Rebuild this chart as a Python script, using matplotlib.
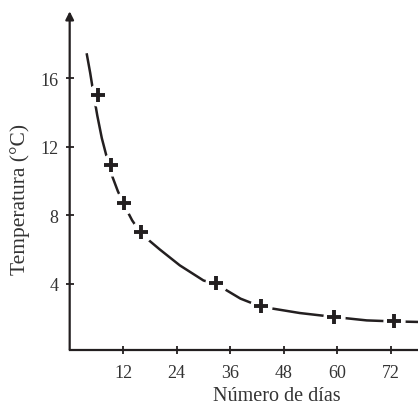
import matplotlib
matplotlib.use('Agg')
import matplotlib.pyplot as plt

# measured points (days, temperature in C)
dias = [6.4, 9.3, 12.2, 16.1, 32.9, 42.9, 59.3, 72.8]
temperatura = [15.0, 10.9, 8.7, 7.0, 4.05, 2.68, 2.06, 1.80]

# hand-drawn fitted curve
curva_x = [3.8, 4.6, 5.4, 6.2, 7.2, 8.3, 9.5, 10.8, 12.2, 14.0, 16.1, 20.2,
           24.7, 30.0, 32.9, 38.3, 42.9, 51.6, 59.3, 66.6, 72.8, 78.1]
curva_y = [17.45, 16.3, 15.0, 13.8, 12.5, 11.4, 10.3, 9.4, 8.6, 7.7, 6.9, 6.0,
           5.07, 4.19, 3.97, 3.13, 2.66, 2.29, 2.06, 1.86, 1.80, 1.77]

xticks = [12, 24, 36, 48, 60, 72]
yticks = [4, 8, 12, 16]

ink = '#231f20'
plt.rcParams['font.family'] = ['Liberation Serif', 'DejaVu Serif']

fig = plt.figure(figsize=(4.18, 4.06), dpi=100)
ax = fig.add_axes([0.1667, 0.1362, 0.8333, 0.8378])

ax.plot(curva_x, curva_y, color=ink, lw=1.8, solid_capstyle='butt',
        solid_joinstyle='round', zorder=2)
# white gaps around the crosses
ax.plot(dias, temperatura, 'o', ms=15, color='white', mec='white', zorder=3)
ax.plot(dias, temperatura, '+', ms=10, mew=2.8, color=ink, zorder=4)

ax.set_xlim(0, 78.1)
ax.set_ylim(0.15, 20)

for s in ['top', 'right', 'left']:
    ax.spines[s].set_visible(False)
ax.spines['bottom'].set_color(ink)
ax.spines['bottom'].set_linewidth(1.6)

# y axis with arrow head
ax.annotate('', xy=(0, 19.9), xytext=(0, 0.15),
            arrowprops=dict(arrowstyle='-|>', lw=1.6, color=ink,
                            mutation_scale=12, shrinkA=0, shrinkB=0),
            annotation_clip=False)

ax.set_xticks(xticks)
ax.set_yticks(yticks)
ax.tick_params(direction='inout', length=6, width=1.3, color=ink,
               labelsize=13, labelcolor='#333333')
ax.tick_params(axis='x', pad=7)
ax.tick_params(axis='y', pad=5)

ax.set_xlabel('Número de días', fontsize=14.5, color='#333333')
ax.set_ylabel('Temperatura (°C)', fontsize=15.5, color='#333333')
ax.xaxis.set_label_coords(0.595, -0.108)
ax.yaxis.set_label_coords(-0.113, 0.446)

plt.savefig('out.png', dpi=100)
